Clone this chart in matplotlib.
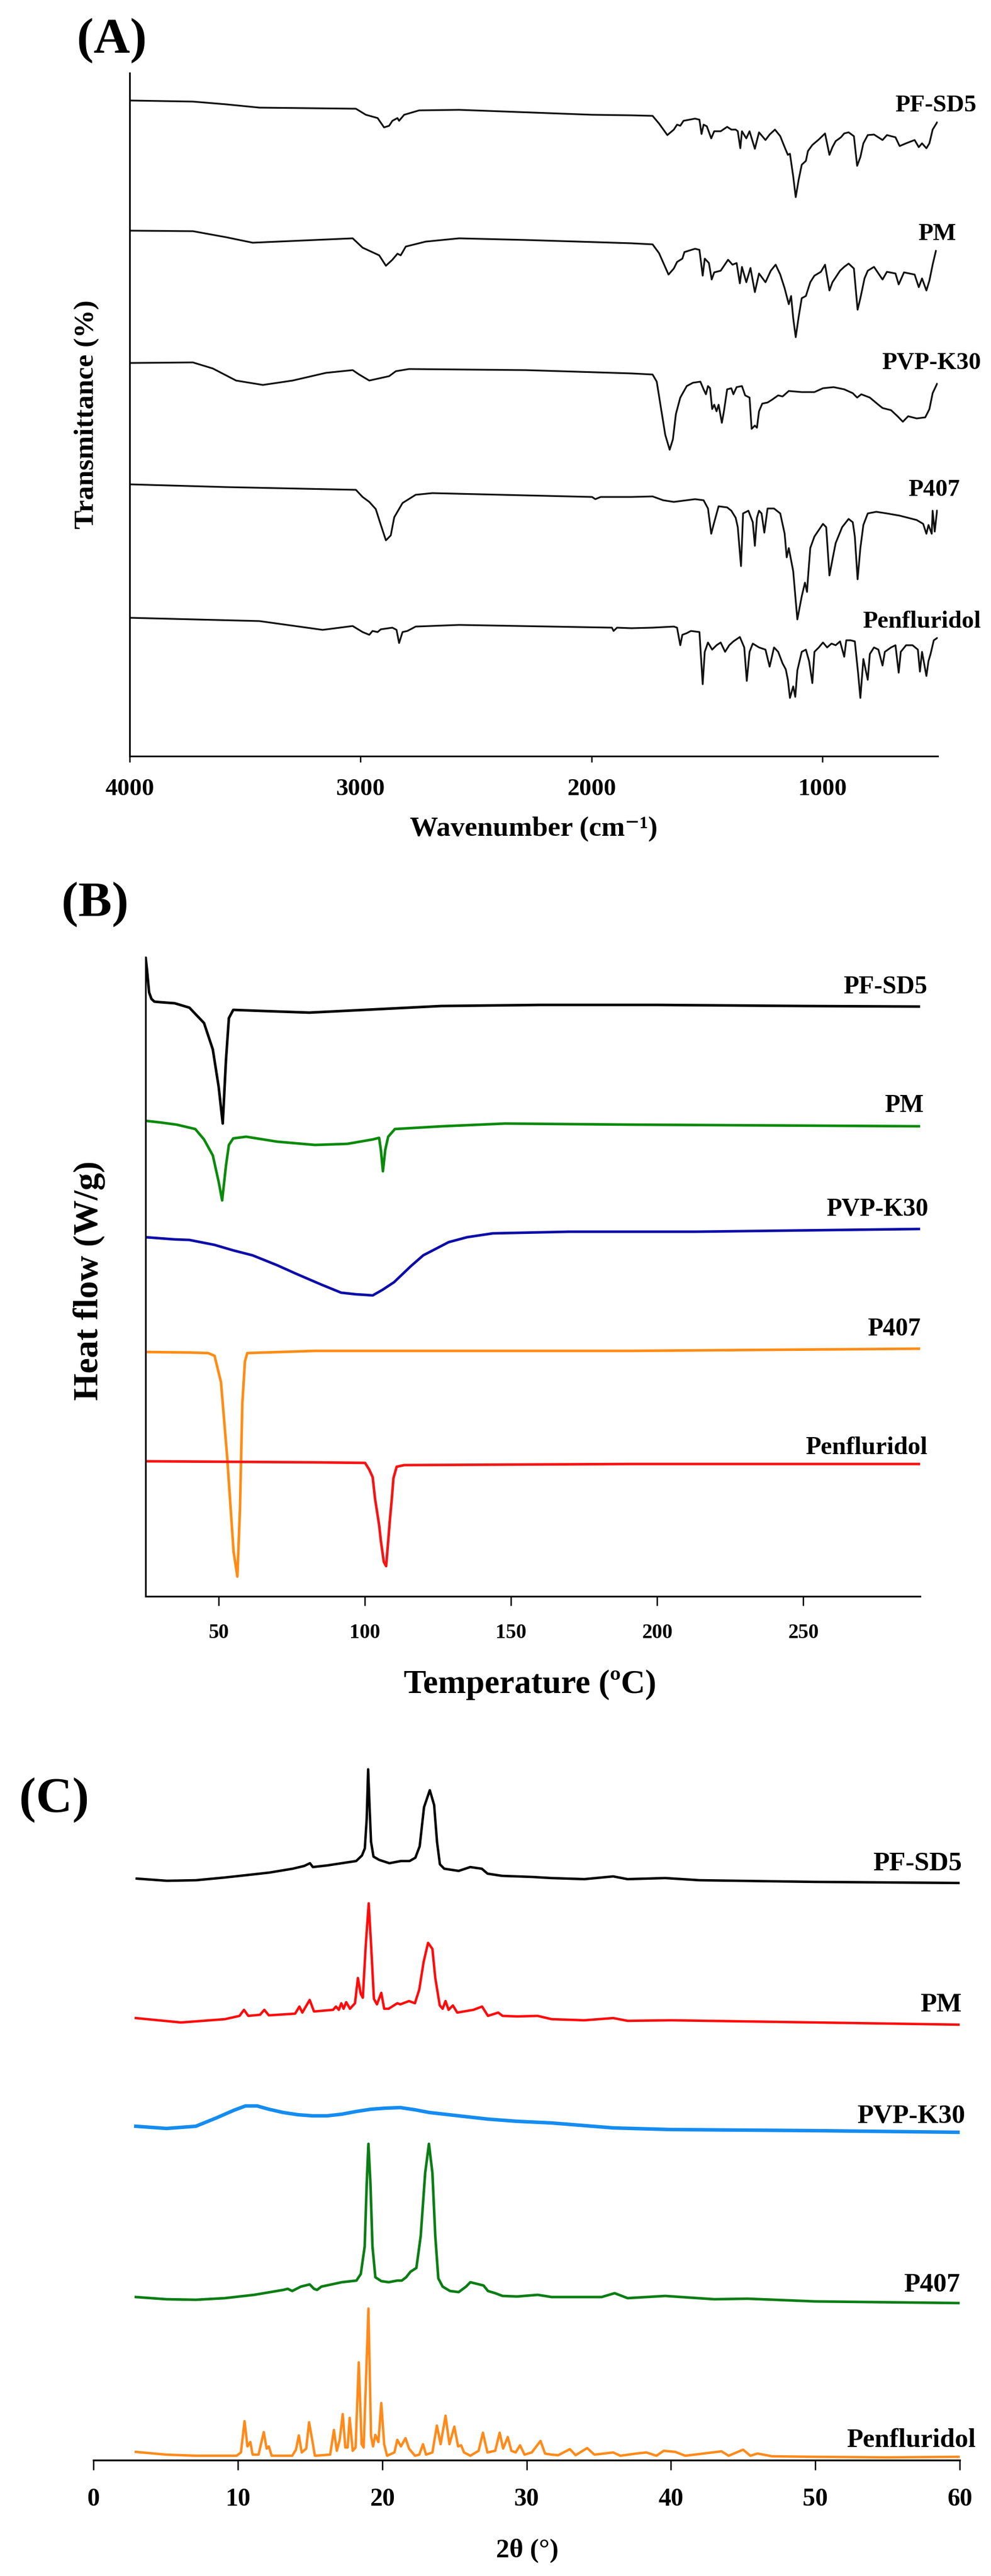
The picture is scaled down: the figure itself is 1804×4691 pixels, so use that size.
import matplotlib
matplotlib.use('Agg')
import matplotlib.pyplot as plt
import matplotlib.transforms as mtransforms

plt.rcParams['font.family'] = ['Liberation Serif', 'DejaVu Serif']
plt.rcParams['font.weight'] = 'bold'

W, H, DPI = 1804, 4691, 100

# ====================== (A) FTIR data ======================
ftir_names = ['PF-SD5', 'PM', 'PVP-K30', 'P407', 'Penfluridol']

ftir_pfsd5_wn = [4000, 3726, 3582, 3438, 3020, 2977, 2926, 2898, 2876, 2862, 2840, 2833, 2811, 2746, 2573, 1997,
                 1827, 1735, 1707, 1671, 1643, 1629, 1615, 1601, 1551, 1532, 1523, 1514, 1500, 1481, 1468, 1440, 1412,
                 1394, 1375, 1366, 1355, 1348, 1329, 1315, 1292, 1274, 1246, 1228, 1205, 1182, 1163, 1149, 1140, 1126,
                 1115, 1103, 1089, 1071, 1062, 1043, 1015, 988, 969, 956, 942, 919, 905, 886, 863, 849, 835, 822, 803,
                 776, 739, 720, 683, 665, 637, 600, 582, 568, 549, 536, 522, 503]
ftir_pfsd5_t = [1194, 1192, 1187, 1181, 1179, 1168, 1162, 1145, 1148, 1157, 1162, 1157, 1168, 1176, 1177, 1168,
                1167, 1166, 1152, 1131, 1141, 1150, 1148, 1157, 1161, 1159, 1133, 1150, 1147, 1125, 1138, 1138, 1146,
                1141, 1141, 1138, 1107, 1138, 1125, 1138, 1106, 1136, 1122, 1132, 1141, 1129, 1109, 1095, 1097, 1056,
                1018, 1048, 1077, 1084, 1102, 1113, 1123, 1134, 1095, 1109, 1120, 1127, 1134, 1136, 1129, 1075, 1091,
                1116, 1131, 1132, 1122, 1131, 1127, 1111, 1116, 1122, 1109, 1116, 1107, 1116, 1141, 1154]

ftir_pm_wn = [4000, 3726, 3582, 3467, 3034, 2991, 2955, 2919, 2890, 2862, 2840, 2826, 2804, 2718, 2573, 2285,
              1827, 1735, 1707, 1666, 1643, 1629, 1606, 1597, 1551, 1532, 1518, 1509, 1491, 1479, 1468, 1440, 1408,
              1389, 1371, 1357, 1348, 1329, 1311, 1292, 1274, 1246, 1223, 1202, 1182, 1163, 1145, 1135, 1126, 1115,
              1103, 1089, 1071, 1052, 1034, 1006, 988, 969, 956, 923, 905, 886, 863, 847, 835, 817, 803, 776, 739,
              720, 683, 669, 646, 600, 582, 568, 549, 536, 522, 508]
ftir_pm_t = [957, 956, 945, 935, 943, 926, 919, 912, 893, 904, 915, 912, 928, 937, 943, 940,
             934, 932, 916, 877, 888, 900, 906, 918, 924, 922, 875, 906, 898, 868, 881, 884, 904,
             895, 898, 861, 891, 863, 889, 845, 879, 863, 884, 895, 877, 852, 823, 838, 798, 763,
             798, 834, 838, 863, 875, 882, 895, 848, 863, 884, 891, 897, 888, 813, 834, 870, 884, 891, 868,
             882, 879, 859, 881, 877, 854, 870, 848, 866, 895, 920]

ftir_pvp_wn = [4000, 3726, 3640, 3539, 3423, 3294, 3150, 3034, 3006, 2962, 2919, 2876, 2847, 2790, 2285,
               1827, 1735, 1717, 1698, 1680, 1661, 1647, 1634, 1615, 1587, 1560, 1528, 1514, 1504, 1495, 1486,
               1477, 1468, 1458, 1449, 1435, 1426, 1412, 1394, 1385, 1371, 1348, 1334, 1315, 1306, 1292, 1283, 1274,
               1260, 1237, 1218, 1191, 1172, 1145, 1089, 1034, 997, 951, 905, 868, 849, 831, 794, 757, 739, 702,
               674, 651, 628, 591, 554, 536, 522, 503]
ftir_pvp_t = [716, 717, 706, 684, 676, 684, 698, 703, 695, 684, 688, 692, 701, 705, 703,
              697, 695, 682, 632, 585, 558, 577, 623, 653, 674, 680, 682, 668, 659, 674, 670,
              632, 640, 628, 640, 607, 628, 668, 670, 659, 672, 674, 657, 653, 596, 602, 598, 628,
              642, 644, 649, 657, 655, 665, 663, 663, 670, 672, 668, 661, 653, 659, 653, 640, 634, 630,
              619, 609, 619, 615, 617, 632, 661, 678]

ftir_p407_wn = [4000, 3582, 3020, 2991, 2962, 2934, 2912, 2890, 2869, 2854, 2818, 2761, 2689, 1997, 1983, 1960,
                1827, 1735, 1689, 1643, 1551, 1514, 1495, 1481, 1468, 1449, 1412, 1394, 1375, 1366, 1352, 1343, 1320,
                1301, 1292, 1283, 1274, 1263, 1251, 1237, 1209, 1182, 1163, 1154, 1145, 1126, 1108, 1089, 1075, 1066,
                1062, 1052, 1034, 997, 983, 969, 956, 942, 914, 886, 868, 859, 847, 835, 822, 803, 766, 720, 665,
                628, 591, 563, 549, 540, 526, 522, 513, 503]
ftir_p407_t = [495, 490, 485, 472, 463, 450, 421, 393, 402, 435, 461, 476, 479, 472, 468, 472,
               472, 473, 466, 463, 468, 466, 451, 405, 426, 455, 453, 447, 434, 417, 346, 442, 447,
               426, 383, 434, 447, 442, 407, 451, 451, 442, 405, 362, 379, 337, 249, 291, 316, 299,
               324, 379, 400, 423, 417, 329, 358, 388, 417, 432, 426, 400, 322, 379, 421, 442, 445, 442, 438,
               434, 430, 423, 405, 421, 405, 447, 409, 447]

ftir_penf_wn = [4000, 3438, 3164, 3034, 2991, 2962, 2948, 2926, 2912, 2862, 2844, 2833, 2818, 2797, 2761, 2573,
                1911, 1904, 1889, 1827, 1735, 1643, 1629, 1615, 1606, 1587, 1569, 1532, 1518, 1509, 1495,
                1477, 1458, 1440, 1421, 1403, 1385, 1357, 1338, 1327, 1315, 1301, 1274, 1246, 1228, 1209, 1191, 1172,
                1158, 1149, 1140, 1126, 1117, 1108, 1089, 1071, 1057, 1043, 1034, 1015, 997, 979, 960, 942, 923, 905,
                896, 877, 859, 845, 835, 822, 803, 794, 776, 757, 739, 729, 702, 683, 669, 660, 637, 609, 586, 577,
                568, 549, 540, 531, 517, 503]
ftir_penf_t = [252, 246, 230, 237, 226, 221, 228, 226, 231, 234, 230, 206, 226, 228, 236, 239,
               234, 228, 234, 233, 234, 236, 234, 202, 221, 224, 228, 226, 131, 190, 207,
               194, 202, 207, 190, 202, 209, 217, 198, 137, 190, 205, 198, 194, 163, 198, 190, 169,
               158, 139, 106, 127, 108, 156, 190, 194, 173, 133, 190, 198, 207, 198, 205, 202, 209, 181,
               211, 211, 209, 152, 106, 177, 139, 186, 198, 194, 165, 190, 198, 202, 152, 190, 202, 202, 194, 154,
               190, 146, 173, 186, 211, 215]

ftir_label_y = [1185, 951, 716, 485, 245]
ftir_xticks = [4000, 3000, 2000, 1000]

# ====================== (B) DSC data ======================
dsc_names = ['PF-SD5', 'PM', 'PVP-K30', 'P407', 'Penfluridol']
dsc_colors = ['#000000', '#0a8a0a', '#0c0ca8', '#ff8c14', '#f51414']

dsc_pfsd5_T = [25, 25.5, 26.2, 27, 28, 30, 35, 40, 45, 48, 50, 51.4, 52.5, 53.5, 55, 65, 81, 100, 126, 160, 200, 250, 290]
dsc_pfsd5_h = [1164, 1140, 1100, 1088, 1083, 1082, 1080, 1072, 1044, 996, 928, 861, 976, 1053, 1068, 1066, 1063, 1068,
               1075, 1077, 1077, 1075, 1074]

dsc_pm_T = [25, 30, 35.6, 42, 45, 48, 50, 51.2, 52.5, 53.5, 55, 59.4, 70, 83, 94, 102.7, 104.9, 105.5, 106.2, 107, 108,
            110.3, 126.5, 148, 191, 290]
dsc_pm_h = [866, 863, 859, 851, 832, 803, 755, 721, 784, 822, 834, 837, 828, 822, 824, 832, 835, 813, 774, 813, 837,
            851, 856, 861, 859, 856]

dsc_pvp_T = [25, 35, 40, 48.6, 55, 61.6, 70, 76.7, 85, 91.9, 97, 100.1, 102.7, 106, 110, 115.7, 120, 128.7, 135,
             143.8, 169.8, 213.1, 290]
dsc_pvp_h = [654, 650, 649, 640, 630, 621, 603, 587, 568, 553, 550, 549, 548, 558, 572, 601, 621, 645, 654, 661, 664,
             664, 669]

dsc_p407_T = [25, 40, 46.4, 48.6, 50.8, 52.9, 55.1, 56.4, 57.3, 58.1, 59, 59.8, 83, 191, 290]
dsc_p407_h = [445, 444, 443, 438, 390, 255, 82, 36, 159, 351, 428, 443, 447, 447, 451]

dsc_penf_T = [25, 83, 100.1, 101.5, 102.7, 103.5, 104.9, 105.5, 106.5, 107.3, 108.0, 108.6, 109.2, 109.8, 110.9, 113.5,
              191, 290]
dsc_penf_h = [246, 244, 243, 231, 217, 178, 130, 101, 63, 55, 100, 140, 175, 215, 236, 239, 241, 241]

dsc_label_y = [1109, 893, 705, 486, 270]
dsc_xticks = [50, 100, 150, 200, 250]

# ====================== (C) XRD data ======================
xrd_names = ['PF-SD5', 'PM', 'PVP-K30', 'P407', 'Penfluridol']
xrd_colors = ['#000000', '#ff0a0a', '#158cf0', '#0a7d14', '#ff8a1a']

xrd_pfsd5_2t = [3.0, 5.1, 7.1, 9.1, 10.5, 12.2, 13.8, 14.6, 15.0, 15.2, 16.2, 17.2, 18.2, 18.6, 18.8, 18.93, 19.03,
                19.13, 19.23, 19.4, 19.8, 20.5, 21.3, 21.9, 22.3, 22.6, 22.9, 23.3, 23.6, 23.8, 24.0, 24.3, 25.3,
                26.1, 26.9, 27.3, 28.3, 30.4, 31.7, 34.0, 36.0, 37.0, 39.6, 42.0, 50.0, 60.0]
xrd_pfsd5_i = [1059, 1055, 1056, 1061, 1065, 1070, 1077, 1082, 1087, 1080, 1083, 1087, 1091, 1101, 1114, 1168, 1258,
               1189, 1126, 1099, 1093, 1087, 1091, 1091, 1097, 1118, 1189, 1220, 1193, 1126, 1085, 1077, 1073,
               1080, 1077, 1068, 1064, 1062, 1060, 1058, 1063, 1058, 1060, 1056, 1053, 1051]

xrd_pm_2t = [2.94, 6.07, 9.11, 10.12, 10.43, 10.73, 11.54, 11.84, 12.15, 13.97, 14.27, 14.47, 14.98, 15.28, 16.6,
             16.8, 17.0, 17.17, 17.33, 17.51, 17.77, 18.12, 18.32, 18.52, 18.66, 18.87, 19.07, 19.23, 19.43, 19.64,
             19.94, 20.14, 20.45, 21.05, 21.26, 21.86, 22.27, 22.57, 22.87, 23.18, 23.48, 23.68, 23.99, 24.19, 24.39,
             24.6, 24.9, 25.2, 26.32, 26.92, 27.33, 28.04, 28.34, 29.35, 30.77, 31.74, 34.0, 36.0, 37.0, 40.0, 50.0,
             60.0]
xrd_pm_i = [805, 797, 803, 809, 820, 809, 811, 820, 810, 813, 826, 815, 838, 817, 820,
            826, 820, 832, 822, 834, 822, 832, 878, 849, 842, 940, 1014, 940, 840, 830,
            851, 822, 822, 832, 830, 836, 832, 857, 907, 942, 931, 878, 828, 822, 836,
            820, 828, 815, 820, 826, 809, 815, 809, 808, 809, 803, 801, 805, 800, 801, 797,
            793]

xrd_pvp_2t = [2.94, 5.06, 7.09, 8.5, 9.72, 10.53, 11.34, 12.15, 13.16, 14.17, 15.18, 16.19, 17.21, 18.22, 19.23,
              20.24, 21.26, 22.27, 23.28, 25.3, 27.33, 29.35, 31.74, 36.0, 40.0, 50.0, 60.0]
xrd_pvp_i = [608, 604, 608, 623, 637, 645, 645, 639, 633, 629, 627, 627, 630, 635, 639,
             641, 642, 638, 633, 627, 621, 617, 614, 605, 602, 600, 597]

xrd_p407_2t = [2.94, 5.06, 7.09, 9.11, 11.13, 13.16, 13.46, 13.77, 14.37, 14.98, 15.28, 15.49, 15.79, 17.21, 18.22,
               18.52, 18.79, 18.93, 19.05, 19.19, 19.33, 19.53, 19.94, 20.45, 21.05, 21.36, 21.66, 21.96, 22.37,
               22.67, 22.98, 23.24, 23.48, 23.68, 23.89, 24.19, 24.7, 25.3, 25.81, 26.11, 26.72, 27.02, 27.33,
               27.83, 28.34, 29.35, 30.77, 31.74, 35.2, 36.1, 37.0, 39.6, 43.0, 45.3, 50.0, 60.0]
xrd_p407_i = [297, 293, 292, 295, 301, 310, 312, 308, 316, 320, 312, 310, 316, 324, 327,
              339, 389, 503, 576, 503, 389, 333, 326, 324, 327, 327, 333, 343, 350,
              408, 523, 576, 523, 408, 331, 316, 308, 306, 316, 324, 320, 318, 308,
              304, 299, 298, 301, 297, 297, 304, 295, 299, 293, 294, 289, 286]

xrd_penf_2t = [2.94, 5.06, 7.09, 9.92, 10.22, 10.47, 10.67, 10.87, 11.03, 11.44, 11.8, 12.0, 12.15, 12.35, 13.77,
               14.03, 14.23, 14.43, 14.74, 14.94, 15.18, 15.34, 16.4, 16.66, 16.86, 17.06, 17.27, 17.45, 17.61,
               17.75, 17.96, 18.16, 18.38, 18.58, 18.72, 19.05, 19.23, 19.37, 19.53, 19.74, 19.94, 20.14, 20.34,
               20.85, 21.05, 21.3, 21.62, 21.86, 22.27, 22.57, 22.83, 23.04, 23.48, 23.79, 24.05, 24.39, 24.66,
               25.0, 25.26, 25.47, 25.67, 26.11, 26.68, 26.98, 27.29, 27.83, 28.14, 28.38, 28.7, 28.95, 29.25,
               29.55, 29.86, 30.36, 30.97, 31.28, 31.74, 32.2, 33.0, 33.4, 34.2, 34.7, 36.0, 36.5, 37.6, 38.3, 39.0,
               39.5, 40.3, 41.0, 43.5, 44.0, 45.0, 45.5, 46.0, 47.0, 50.0, 55.0, 60.0]
xrd_penf_i = [15, 10, 8, 8, 14, 71, 25, 33, 10, 10, 51, 21, 25, 8, 8,
              19, 45, 14, 21, 69, 33, 8, 10, 55, 17, 37, 84, 23, 23,
              77, 17, 23, 178, 29, 23, 276, 44, 25, 46, 33, 104, 29, 8,
              14, 37, 25, 40, 21, 8, 10, 29, 10, 14, 63, 29, 81, 29,
              61, 25, 27, 14, 8, 17, 50, 14, 17, 50, 21, 42, 17, 14,
              27, 10, 14, 35, 12, 10, 9, 20, 9, 22, 10, 14, 8, 12, 14, 8,
              17, 15, 8, 16, 8, 19, 8, 12, 7, 6, 5, 6]

xrd_label_y = [1086, 829, 627, 319, 36]
xrd_xticks = [0, 10, 20, 30, 40, 50, 60]


# ---------------------------------------------------------------
def add_axes_px(fig, left, top, right, bottom):
    return fig.add_axes([left / W, 1 - bottom / H, (right - left) / W, (bottom - top) / H])


def style_axes(ax, left_spine=True, spine_w=2.2, tick_len=8, tick_pad=20, tick_size=32):
    for s in ['top', 'right']:
        ax.spines[s].set_visible(False)
    ax.spines['left'].set_visible(left_spine)
    ax.spines['left'].set_linewidth(spine_w)
    ax.spines['bottom'].set_linewidth(spine_w)
    ax.tick_params(axis='x', direction='out', length=tick_len, width=1.8, pad=tick_pad, labelsize=tick_size)
    ax.set_yticks([])
    for lab in ax.get_xticklabels():
        lab.set_fontweight('bold')


def side_label(ax, xfrac, yval, text, size):
    tr = mtransforms.blended_transform_factory(ax.transAxes, ax.transData)
    ax.text(xfrac, yval, text, transform=tr, ha='right', va='center', fontsize=size,
            fontweight='bold', clip_on=False)


fig = plt.figure(figsize=(W / DPI, H / DPI), dpi=DPI)
fig.patch.set_facecolor('white')

# ---------------- Panel A ----------------
axA = add_axes_px(fig, 236, 133, 1707, 1377)
ftir_series = [(ftir_pfsd5_wn, ftir_pfsd5_t), (ftir_pm_wn, ftir_pm_t), (ftir_pvp_wn, ftir_pvp_t),
               (ftir_p407_wn, ftir_p407_t), (ftir_penf_wn, ftir_penf_t)]
for wn, tv in ftir_series:
    n = min(len(wn), len(tv))
    axA.plot(wn[:n], tv[:n], color='#111111', lw=2.3, solid_joinstyle='round')
axA.set_xlim(4000, 500)
axA.set_ylim(0, 1244)
axA.set_xticks(ftir_xticks)
style_axes(axA, left_spine=True, spine_w=2.2, tick_len=8, tick_pad=21, tick_size=32)
axA.set_xlabel('Wavenumber (cm⁻¹)', fontsize=37, fontweight='bold')
axA.xaxis.label.set_va('center')
axA.xaxis.set_label_coords(0.5, -0.107)
axA.set_ylabel('Transmittance (%)', fontsize=37, fontweight='bold')
axA.yaxis.label.set_va('center')
axA.yaxis.set_label_coords(-0.053, 0.5)
ftir_label_x = [1.0476, 1.0224, 1.0537, 1.0272, 1.0537]
for name, xf, yv in zip(ftir_names, ftir_label_x, ftir_label_y):
    side_label(axA, xf, yv, name, 32)
fig.text(140 / W, 1 - 74 / H, '(A)', fontsize=66, fontweight='bold', ha='left', va='center')

# ---------------- Panel B ----------------
axB = add_axes_px(fig, 265, 1743, 1675, 2907)
dsc_series = [(dsc_pfsd5_T, dsc_pfsd5_h), (dsc_pm_T, dsc_pm_h), (dsc_pvp_T, dsc_pvp_h),
              (dsc_p407_T, dsc_p407_h), (dsc_penf_T, dsc_penf_h)]
for (tt, hh), col in zip(dsc_series, dsc_colors):
    n = min(len(tt), len(hh))
    axB.plot(tt[:n], hh[:n], color=col, lw=3.4, solid_joinstyle='round')
axB.set_xlim(25, 290)
axB.set_ylim(0, 1164)
axB.set_xticks(dsc_xticks)
style_axes(axB, left_spine=True, spine_w=2.2, tick_len=12, tick_pad=23, tick_size=27)
axB.set_xlabel('Temperature (ºC)', fontsize=44, fontweight='bold')
axB.xaxis.label.set_va('center')
axB.xaxis.set_label_coords(0.4965, -0.138)
axB.set_ylabel('Heat flow (W/g)', fontsize=46, fontweight='bold')
axB.yaxis.label.set_va('center')
axB.yaxis.set_label_coords(-0.073, 0.494)
dsc_label_x = [1.0092, 1.005, 1.0106, 1.0007, 1.0092]
for name, xf, yv in zip(dsc_names, dsc_label_x, dsc_label_y):
    side_label(axB, xf, yv, name, 33)
fig.text(112 / W, 1 - 1647 / H, '(B)', fontsize=66, fontweight='bold', ha='left', va='center')

# ---------------- Panel C ----------------
axC = add_axes_px(fig, 170, 3180, 1747, 4480)
xrd_series = [(xrd_pfsd5_2t, xrd_pfsd5_i), (xrd_pm_2t, xrd_pm_i), (xrd_pvp_2t, xrd_pvp_i),
              (xrd_p407_2t, xrd_p407_i), (xrd_penf_2t, xrd_penf_i)]
xrd_lw = [3.2, 3.2, 4.6, 3.4, 3.2]
for (tt, ii), col, lw in zip(xrd_series, xrd_colors, xrd_lw):
    n = min(len(tt), len(ii))
    axC.plot(tt[:n], ii[:n], color=col, lw=lw, solid_joinstyle='round')
axC.set_xlim(0, 60)
axC.set_ylim(0, 1300)
axC.set_xticks(xrd_xticks)
style_axes(axC, left_spine=False, spine_w=2.4, tick_len=13, tick_pad=24, tick_size=33)
axC.set_xlabel('2θ (°)', fontsize=35, fontweight='bold')
axC.xaxis.label.set_va('center')
axC.xaxis.set_label_coords(0.501, -0.127)
xrd_label_x = [1.0025, 1.0025, 1.0063, 1.0006, 1.0184]
for name, xf, yv in zip(xrd_names, xrd_label_x, xrd_label_y):
    side_label(axC, xf, yv, name, 35)
fig.text(35 / W, 1 - 3278 / H, '(C)', fontsize=66, fontweight='bold', ha='left', va='center')

fig.savefig('out.png', dpi=DPI, facecolor='white')
